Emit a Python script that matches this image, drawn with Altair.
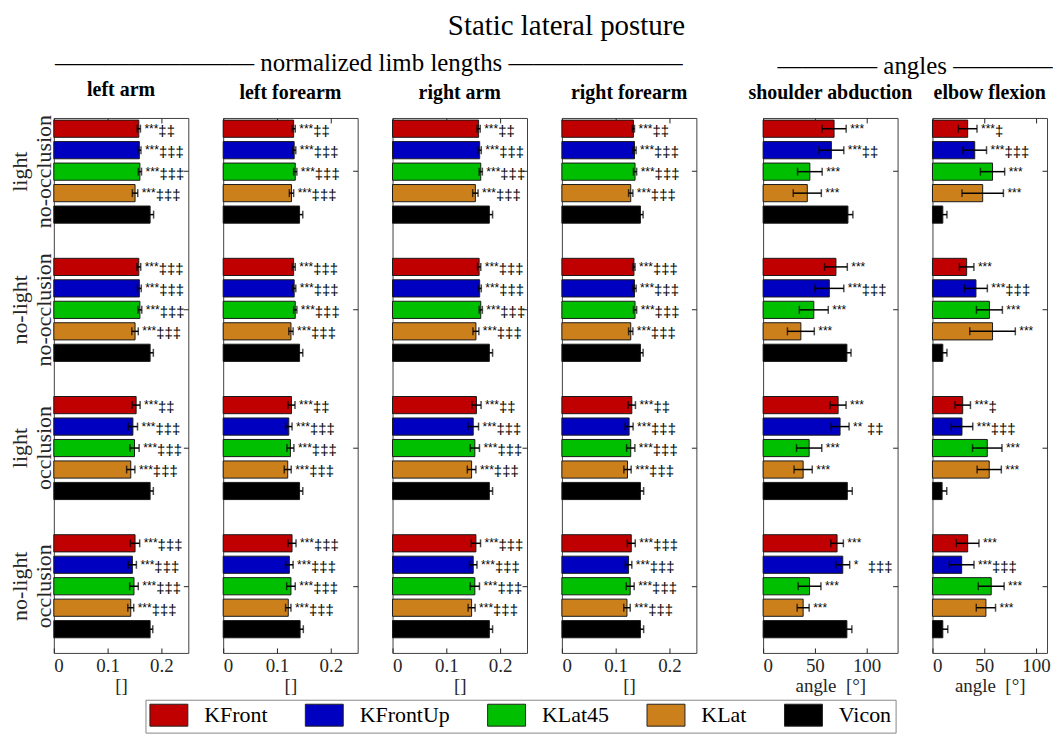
import altair as alt
import pandas as pd

SERIF = "Liberation Serif"
SANS = "Liberation Sans"
AX = "#262626"

methods = ["KFront", "KFrontUp", "KLat45", "KLat", "Vicon"]
colors = ["#C00000", "#0000C0", "#00BF00", "#CC801C", "#000000"]
conditions = ["light|no-occlusion", "no-light|no-occlusion", "light|occlusion", "no-light|occlusion"]

# ---- normalized limb lengths (mean, sd) : rows = conditions, cols = methods
left_arm_mean = [[0.158, 0.159, 0.160, 0.151, 0.179],
                 [0.158, 0.159, 0.160, 0.151, 0.179],
                 [0.153, 0.147, 0.150, 0.143, 0.179],
                 [0.151, 0.146, 0.149, 0.143, 0.179]]
left_arm_sd = [[0.003, 0.003, 0.003, 0.005, 0.0065],
               [0.0035, 0.0035, 0.0035, 0.006, 0.006],
               [0.0074, 0.0086, 0.0086, 0.0077, 0.006],
               [0.0086, 0.0075, 0.008, 0.0055, 0.005]]
left_forearm_mean = [[0.131, 0.132, 0.134, 0.127, 0.142],
                     [0.131, 0.132, 0.134, 0.126, 0.142],
                     [0.127, 0.122, 0.125, 0.120, 0.142],
                     [0.128, 0.123, 0.126, 0.121, 0.143]]
left_forearm_sd = [[0.003, 0.003, 0.003, 0.004, 0.006],
                   [0.003, 0.003, 0.003, 0.004, 0.006],
                   [0.0065, 0.006, 0.0065, 0.0065, 0.006],
                   [0.0074, 0.007, 0.008, 0.005, 0.006]]
right_arm_mean = [[0.160, 0.162, 0.164, 0.154, 0.180],
                  [0.161, 0.162, 0.164, 0.155, 0.180],
                  [0.156, 0.150, 0.153, 0.147, 0.180],
                  [0.155, 0.150, 0.153, 0.147, 0.180]]
right_arm_sd = [[0.003, 0.003, 0.003, 0.005, 0.006],
                [0.003, 0.003, 0.003, 0.0055, 0.006],
                [0.0086, 0.0099, 0.0086, 0.008, 0.006],
                [0.0086, 0.007, 0.0086, 0.0065, 0.006]]
right_forearm_mean = [[0.133, 0.135, 0.136, 0.128, 0.146],
                      [0.134, 0.135, 0.136, 0.128, 0.146],
                      [0.130, 0.125, 0.128, 0.122, 0.146],
                      [0.129, 0.124, 0.127, 0.121, 0.146]]
right_forearm_sd = [[0.002, 0.003, 0.003, 0.004, 0.005],
                    [0.002, 0.003, 0.003, 0.004, 0.005],
                    [0.0068, 0.0074, 0.0077, 0.0068, 0.006],
                    [0.0074, 0.006, 0.0074, 0.006, 0.006]]

# ---- angles (degrees)
shoulder_mean = [[68.6, 66.0, 45.2, 42.7, 82.0],
                 [70.4, 64.0, 49.0, 36.5, 81.0],
                 [72.5, 74.4, 44.5, 38.7, 81.4],
                 [71.5, 77.0, 44.9, 38.7, 81.0]]
shoulder_sd = [[11.7, 12.0, 11.9, 13.6, 4.8],
               [11.0, 14.0, 14.0, 13.0, 4.0],
               [7.7, 8.7, 12.2, 8.8, 4.8],
               [6.1, 6.7, 11.0, 5.8, 4.8]]
elbow_mean = [[34.0, 40.8, 58.0, 48.5, 10.0],
              [33.0, 42.0, 55.0, 58.0, 10.0],
              [29.2, 28.5, 52.9, 54.8, 9.3],
              [34.0, 28.2, 56.7, 51.6, 10.0]]
elbow_sd = [[9.0, 11.4, 11.7, 20.0, 4.0],
            [7.0, 11.0, 12.5, 22.0, 4.0],
            [7.5, 10.4, 14.2, 11.7, 4.5],
            [10.9, 11.9, 12.5, 9.3, 4.8]]

# ---- significance annotations
limb_stars = [["***", "***", "***", "***", ""]] * 4
limb_daggers = [["‡‡", "‡‡‡", "‡‡‡", "‡‡‡", ""],
                ["‡‡‡", "‡‡‡", "‡‡‡", "‡‡‡", ""],
                ["‡‡", "‡‡‡", "‡‡‡", "‡‡‡", ""],
                ["‡‡‡", "‡‡‡", "‡‡‡", "‡‡‡", ""]]
shoulder_stars = [["***", "***", "***", "***", ""],
                  ["***", "***", "***", "***", ""],
                  ["***", "**", "***", "***", ""],
                  ["***", "*", "***", "***", ""]]
shoulder_daggers = [["", "‡‡", "", "", ""],
                    ["", "‡‡‡", "", "", ""],
                    ["", "‡‡", "", "", ""],
                    ["", "‡‡‡", "", "", ""]]
elbow_stars = [["***", "***", "***", "***", ""]] * 4
elbow_daggers = [["‡", "‡‡‡", "", "", ""],
                 ["", "‡‡‡", "", "", ""],
                 ["‡", "‡‡‡", "", "", ""],
                 ["", "‡‡‡", "", "", ""]]

limb_ticks = [0, 0.1, 0.2]
angle_ticks = [0, 50, 100]

PLOT_H = 537

legend = alt.Legend(
    orient="none", legendX=92, legendY=584, direction="horizontal", columns=5,
    title=None, symbolType="M-1.73,-1L1.73,-1L1.73,1L-1.73,1Z", symbolSize=484,
    symbolOffset=8, symbolStrokeColor="#222", symbolStrokeWidth=1, symbolOpacity=1,
    labelFont=SERIF, labelFontSize=22, labelColor="black", labelOffset=24,
    columnPadding=35, gridAlign="none", strokeColor="#888", padding=4,
    fillColor="white",
)


def panel(name, means, sds, stars, daggers, xmax, width, ticks, fmt, xtitle, first=False):
    rows = []
    for ci, c in enumerate(conditions):
        for mi, m in enumerate(methods):
            rows.append(dict(cond=c, method=m, mean=means[ci][mi], sd=sds[ci][mi],
                             stars=stars[ci][mi], daggers=daggers[ci][mi]))
    df = pd.DataFrame(rows)
    base = alt.Chart(df).transform_calculate(lo="datum.mean - datum.sd", hi="datum.mean + datum.sd")
    xs = alt.Scale(domain=[0, xmax], nice=False, zero=True)
    ys = alt.Scale(domain=conditions, paddingInner=0.223, paddingOuter=0.047, align=0)
    yo = alt.YOffset("method:N", sort=methods,
                     scale=alt.Scale(domain=methods, paddingInner=0.2, paddingOuter=0.1))
    if first:
        yleft = alt.Axis(orient="left", offset=-5, tickSize=5, domain=False, title=None,
                         labelExpr="split(datum.label, '|')", labelAngle=270,
                         labelAlign="center", labelBaseline="bottom", labelFont=SERIF,
                         labelFontSize=22, labelLineHeight=24, labelColor=AX, labelPadding=22,
                         tickColor=AX)
    else:
        yleft = alt.Axis(orient="left", offset=-5, tickSize=5, domain=False, title=None,
                         labels=False, tickColor=AX)
    bars = base.mark_bar(stroke="#1a1a1a", strokeWidth=1).encode(
        x=alt.X("mean:Q", scale=xs, axis=alt.Axis(
            orient="bottom", values=ticks, format=fmt, offset=-5, tickSize=5, domain=False,
            grid=False, labelFont=SERIF, labelFontSize=19, labelColor=AX, labelPadding=4,
            tickColor=AX, title=xtitle, titleFont=SERIF, titleFontSize=19,
            titleFontWeight="normal", titlePadding=1, titleColor=AX)),
        y=alt.Y("cond:N", scale=ys, sort=conditions, axis=yleft),
        yOffset=yo,
        color=alt.Color("method:N", sort=methods,
                        scale=alt.Scale(domain=methods, range=colors), legend=legend),
    )
    err = base.mark_rule(color="black", strokeWidth=1.5).encode(
        x=alt.X("lo:Q", scale=xs, axis=alt.Axis(
            orient="top", values=ticks, offset=-5, tickSize=5, domain=False, labels=False,
            grid=False, title=None, tickColor=AX)),
        x2="hi:Q",
        y=alt.Y("cond:N", scale=ys, sort=conditions, axis=alt.Axis(
            orient="right", offset=-5, tickSize=5, domain=False, labels=False, title=None,
            tickColor=AX)),
        yOffset=yo,
    )
    caps = base.transform_fold(["lo", "hi"], as_=["end", "val"]).mark_tick(
        color="black", thickness=1.5, size=8).encode(
        x=alt.X("val:Q", scale=xs, axis=None),
        y=alt.Y("cond:N", scale=ys, sort=conditions, axis=None),
        yOffset=yo,
    )
    st = base.mark_text(align="left", baseline="middle", dx=4, dy=0, font=SANS,
                        fontSize=12, color="black").encode(
        x=alt.X("hi:Q", scale=xs, axis=None),
        y=alt.Y("cond:N", scale=ys, sort=conditions, axis=None),
        yOffset=yo, text="stars:N")
    dg = base.mark_text(align="left", baseline="middle", dx=18, dy=2, font=SANS,
                        fontSize=15, color="black").encode(
        x=alt.X("hi:Q", scale=xs, axis=None),
        y=alt.Y("cond:N", scale=ys, sort=conditions, axis=None),
        yOffset=yo, text="daggers:N")
    return alt.layer(bars, err, caps, st, dg).resolve_axis(
        x="independent", y="independent").properties(
        width=width, height=PLOT_H,
        title=alt.TitleParams(name, font=SERIF, fontSize=20, fontWeight="bold",
                              color="black", offset=15))


limbs = alt.hconcat(
    panel("left arm", left_arm_mean, left_arm_sd, limb_stars, limb_daggers, 0.25, 135, limb_ticks, "~g", "[]", first=True),
    panel("left forearm", left_forearm_mean, left_forearm_sd, limb_stars, limb_daggers, 0.25, 135, limb_ticks, "~g", "[]"),
    panel("right arm", right_arm_mean, right_arm_sd, limb_stars, limb_daggers, 0.25, 135, limb_ticks, "~g", "[]"),
    panel("right forearm", right_forearm_mean, right_forearm_sd, limb_stars, limb_daggers, 0.25, 135, limb_ticks, "~g", "[]"),
    spacing=35, bounds="flush",
).properties(title=alt.TitleParams("———————— normalized limb lengths ———————",
                                   font=SERIF, fontSize=25, fontWeight="normal",
                                   color="black", offset=3, anchor="middle", dx=16))

angles = alt.hconcat(
    panel("shoulder abduction", shoulder_mean, shoulder_sd, shoulder_stars, shoulder_daggers, 130, 135, angle_ticks, "d", "angle\u00a0 [°]"),
    panel("elbow flexion", elbow_mean, elbow_sd, elbow_stars, elbow_daggers, 110.6, 115, angle_ticks, "d", "angle\u00a0 [°]"),
    spacing=35, bounds="flush",
).properties(title=alt.TitleParams("———— angles ————",
                                   font=SERIF, fontSize=25, fontWeight="normal",
                                   color="black", offset=3, anchor="middle", dx=16))

chart = alt.hconcat(limbs, angles, spacing=50).properties(
    title=alt.TitleParams("Static lateral posture", font=SERIF, fontSize=29,
                          fontWeight="normal", color="black", offset=10, anchor="middle", dx=36),
    padding={"top": 3, "left": 0, "right": 0, "bottom": 0},
).configure_view(stroke="#404040", strokeWidth=1)

chart.save("out.html", embed_options={"renderer": "svg", "actions": False})
